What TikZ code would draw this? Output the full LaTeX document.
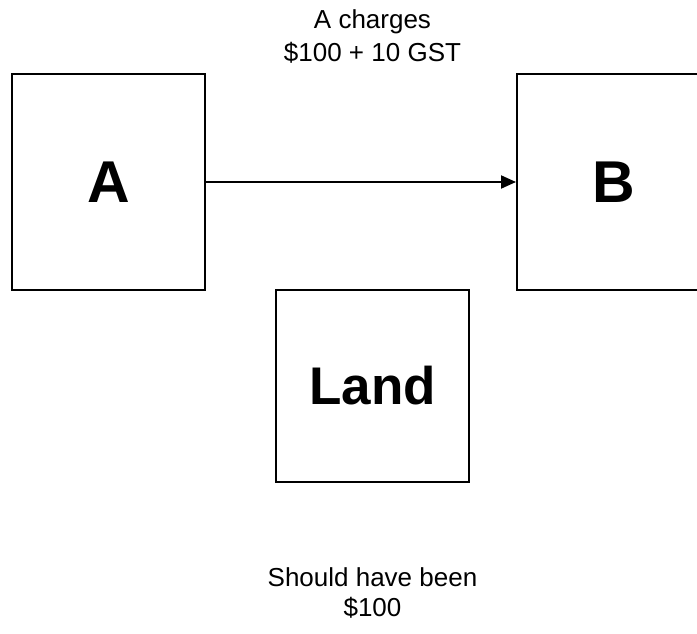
\documentclass[tikz,border=0pt]{standalone}
\usepackage{fontspec}
\setmainfont{Liberation Sans}
\usetikzlibrary{arrows.meta}

\tikzset{
  box/.style={draw, line width=2pt, minimum width=193pt, inner sep=0pt},
  big/.style={font=\fontsize{59}{62}\selectfont\bfseries},
  note/.style={font=\fontsize{26}{30}\selectfont, inner sep=0pt}
}

\begin{document}
\begin{tikzpicture}[x=1pt, y=-1pt, >={Triangle[length=15pt,width=13pt]}]
  \path[use as bounding box, clip] (0,0) rectangle (697,634);
  \node[box, big, minimum height=216pt] (A) at (108.5,182) {A};
  \node[box, big, minimum height=216pt] (B) at (613.5,182) {B};
  \node[box, minimum height=192pt, font=\fontsize{53}{56}\selectfont\bfseries] (land) at (372.5,386) {Land};
  % what A charges
  \node[note] (charge) at (372.5,22) {A charges};
  \node[note] (chargeamt) at (372.5,53) {\$100 + 10 GST};
  % what it should have been
  \node[note] (should) at (372.5,577) {Should have been};
  \node[note] (shouldamt) at (372.5,608) {\$100};
  \draw[->, line width=2pt] (A) -- (B);
\end{tikzpicture}
\end{document}
